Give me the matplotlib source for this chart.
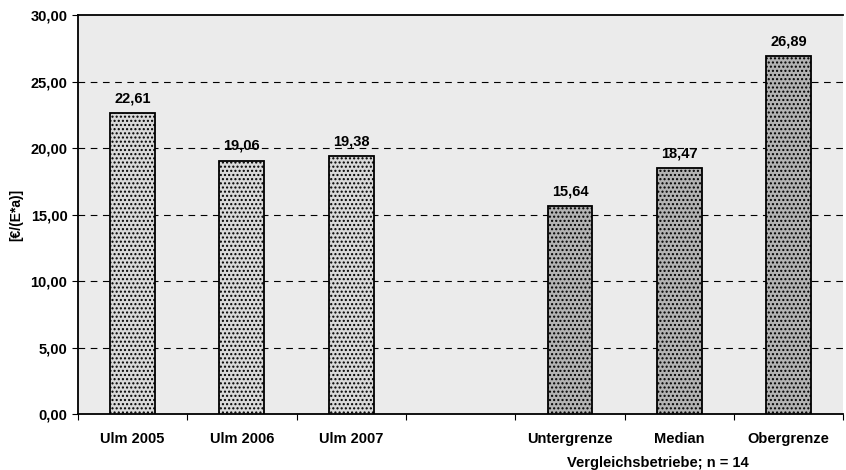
import matplotlib
matplotlib.use("Agg")
import matplotlib.pyplot as plt

#Chart data
categories = ["Ulm 2005", "Ulm 2006", "Ulm 2007", "", "Untergrenze", "Median", "Obergrenze"]
values = [22.61, 19.06, 19.38, None, 15.64, 18.47, 26.89]
value_labels = ["22,61", "19,06", "19,38", "", "15,64", "18,47", "26,89"]
y_ticks = [0, 5, 10, 15, 20, 25, 30]
y_tick_labels = ["0,00", "5,00", "10,00", "15,00", "20,00", "25,00", "30,00"]
group_label = "Vergleichsbetriebe; n = 14"

plt.rcParams['font.family'] = ['Liberation Sans', 'DejaVu Sans']
plt.rcParams['hatch.color'] = "#8a8a8a"

fig = plt.figure(figsize=(8.46, 4.70), dpi=100)
ax = fig.add_axes([0.092, 0.119, 0.905, 0.849])
ax.set_facecolor("#ebebeb")

#Light bars for Ulm, darker bars for the comparison group
for i, v in enumerate(values):
    if v is None:
        continue
    face = "#d9d9d9" if i < 3 else "#b3b3b3"
    ax.bar(i, v, width=0.41, color=face, edgecolor="black", linewidth=1.3,
           hatch="....", zorder=3)
    ax.text(i, v + 0.6, value_labels[i], ha="center", va="bottom",
            fontsize=10.5, fontweight="bold", zorder=4)

ax.set_xlim(-0.5, 6.5)
ax.set_ylim(0, 30)
ax.set_yticks(y_ticks)
ax.set_yticklabels(y_tick_labels, fontsize=10.5, fontweight="bold")
ax.set_xticks([i - 0.5 for i in range(8)], minor=False)
ax.set_xticklabels([])
ax.set_xticks(range(7), minor=True)
ax.set_xticklabels(categories, minor=True, fontsize=10.5, fontweight="bold")
ax.tick_params(axis="x", which="minor", length=0, pad=13)
ax.tick_params(axis="x", which="major", length=4, direction="out")
ax.tick_params(axis="y", length=4)

#Dashed horizontal gridlines
for y in y_ticks[1:-1]:
    ax.axhline(y, color="black", linestyle=(0, (6, 5)), linewidth=0.8, zorder=2)

ax.spines["right"].set_visible(False)
for s in ["left", "bottom", "top"]:
    ax.spines[s].set_linewidth(1.3)

ax.set_ylabel("[€/(E*a)]", fontsize=10, fontweight="bold", labelpad=5)
ax.text(4.8, -0.105, group_label, transform=ax.get_xaxis_transform(),
        ha="center", va="top", fontsize=10.5, fontweight="bold")

fig.savefig("out.png", dpi=100)
